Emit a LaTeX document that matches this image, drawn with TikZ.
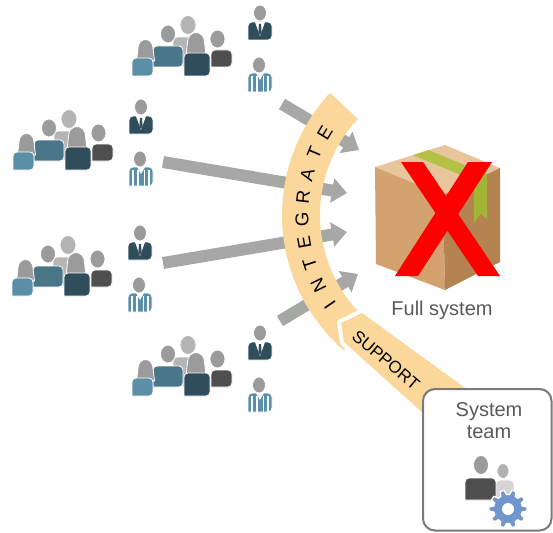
\documentclass[tikz,border=0pt]{standalone}
\usepackage{fontspec}
\setmainfont{Liberation Sans}
\usetikzlibrary{arrows.meta}

\definecolor{arrowgray}{HTML}{A6A8A6}
\definecolor{bandpeach}{HTML}{FCD79B}
\definecolor{tealA}{HTML}{5B8FA8}
\definecolor{tealB}{HTML}{4A7787}
\definecolor{tealC}{HTML}{2F4D5A}
\definecolor{coatgray}{HTML}{4F4F4F}
\definecolor{headgray}{HTML}{9B9B9B}
\definecolor{backgray}{HTML}{B5B5B5}
\definecolor{boxtop}{HTML}{E8C59C}
\definecolor{boxleft}{HTML}{D4A26F}
\definecolor{boxright}{HTML}{B5834F}
\definecolor{tapetop}{HTML}{B4C144}
\definecolor{tapeside}{HTML}{A3B537}
\definecolor{labelgray}{HTML}{595959}
\definecolor{framegray}{HTML}{7A7A7A}
\definecolor{gearblue}{HTML}{7096CC}

% body: x1 y1 x2 y2 colour (rounded shoulders)
\newcommand\figbody[5]{\filldraw[fill=#5, draw=white, line width=0.8pt]
  (#1,#4) [rounded corners=4pt] -- (#1,#2) -- (#3,#2) -- (#3,#4) [sharp corners] -- cycle;}
% head: cx cy rx ry colour
\newcommand\fighead[5]{\filldraw[fill=#5, draw=white, line width=0.8pt]
  (#1,#2) ellipse[x radius=#3, y radius=#4];}
% head with hair down to the shoulders: cx cy rx ry bottom colour
\newcommand\fighair[6]{\filldraw[fill=#6, draw=white, line width=0.8pt]
  ({#1-#3-1.5},#5) -- ({#1-#3},#2) arc[start angle=180, end angle=360, x radius=#3, y radius=#4]
  -- ({#1+#3+1.5},#5) -- cycle;}

% one team: crowd of five, a manager and a worker
\newcommand\crowdat[2]{%
\begin{scope}[shift={(#1,#2)}]
  \figbody{173}{37}{203}{66}{backgray}
  \fighead{188}{25}{8}{9.5}{headgray!75}
  \figbody{153}{46}{183}{67}{tealB}
  \fighead{168}{34}{7.5}{9}{headgray}
  \fighair{145.5}{48}{7.5}{8.5}{61}{headgray}
  \figbody{132}{58}{153}{76}{tealA}
  \figbody{211}{50}{232}{67}{coatgray}
  \fighead{217.5}{39}{7.5}{9}{headgray}
  \fighair{196}{42}{8.5}{9.5}{57}{headgray}
  \figbody{184}{53}{210}{76}{tealC}
  % manager in a suit
  \figbody{248}{22}{272}{40}{tealC}
  \fill[white] (255,22) -- (265,22) -- (260,36) -- cycle;
  \fill[tealC] (259,24) -- (261,24) -- (261.6,32) -- (260,35) -- (258.4,32) -- cycle;
  \fighead{260}{13}{6.5}{8}{headgray}
  % worker in striped overalls
  \figbody{248}{73}{272}{92}{tealA}
  \foreach \sx in {252,256.7,263.5,268.2} \draw[white, line width=1.8pt] (\sx,76) -- (\sx,92.5);
  \fill[white] (256,73) -- (264,73) -- (260,80) -- cycle;
  \fighead{259}{65}{6.5}{8}{headgray}
\end{scope}}

\begin{document}
\begin{tikzpicture}[x=1pt, y=1pt,
  flow/.style={draw=arrowgray, line width=12pt, -{Triangle[length=15pt, width=24pt]}},
  bandtext/.style={font=\fontsize{18.5}{18.5}\selectfont, text=black, inner sep=0pt},
  caption/.style={font=\fontsize{20}{22}\selectfont, text=labelgray, align=center, inner sep=0pt}]
\useasboundingbox (0,0) rectangle (553,-532);

\begin{scope}[yscale=-1]
  % the four teams
  \crowdat{0}{0}
  \crowdat{-119}{94}
  \crowdat{-120}{220}
  \crowdat{0}{320}

  % flows towards the system
  \coordinate (a1s) at (282,104);  \coordinate (a1e) at (359,150);
  \coordinate (a2s) at (163,162);  \coordinate (a2e) at (347,193);
  \coordinate (a3s) at (163,263);  \coordinate (a3e) at (347,232);
  \coordinate (a4s) at (280,321);  \coordinate (a4e) at (358,274);
  \draw[flow] (a1s) -- (a1e);
  \draw[flow] (a2s) -- (a2e);
  \draw[flow] (a3s) -- (a3e);
  \draw[flow] (a4s) -- (a4e);

  % curved INTEGRATE band
  \begin{scope}[shift={(461,215)}]
    \fill[bandpeach] (-137:179) arc[start angle=-137, end angle=-229, radius=179]
      -- (-229:141) arc[start angle=-229, end angle=-137, radius=141] -- cycle;
    \foreach \ch [count=\k from 0] in {I,N,T,E,G,R,A,T,E} {
      \pgfmathsetmacro\tang{214.5-8.19*\k}
      \node[bandtext, rotate=\tang-90] (int\k) at (-\tang:159) {\ch};
    }
  \end{scope}

  % SUPPORT arrow, separated from the band by a white gap
  \coordinate (sp1) at (341,323);
  \coordinate (sp2) at (362,313);
  \coordinate (sp3) at (483,401);
  \coordinate (sp4) at (440.6,429);
  \coordinate (sp5) at (344,342);
  \draw[white, line width=8pt, line join=round] (sp1) -- (sp2) -- (sp3) -- (sp4) -- (sp5) -- cycle;
  \fill[bandpeach] (sp1) -- (sp2) -- (sp3) -- (sp4) -- (sp5) -- cycle;
  \node[font=\fontsize{17}{17}\selectfont, rotate=-40, inner sep=0pt] (supp) at (386,360) {SUPPORT};

  % cardboard box
  \fill[boxtop] (445,145) -- (500,168) -- (443,195) -- (375,167) -- cycle;
  \fill[boxleft] (375,167) -- (443,195) -- (445,290) -- (376,264) -- cycle;
  \fill[boxright] (443,195) -- (500,168) -- (500,262) -- (445,290) -- cycle;
  \fill[tapetop] (412.9,155.1) -- (428.6,150.1) -- (487,174.2) -- (474,180.3) -- cycle;
  \fill[tapeside] (474,180.3) -- (487,174.2) -- (487,219) -- (480.5,214) -- (474,223) -- cycle;
  % red cross
  \fill[red] (401,162) -- (423,162) -- (500,276) -- (478,276) -- cycle;
  \fill[red] (468,162) -- (492,162) -- (418,276) -- (395,276) -- cycle;
  \node[caption] (full) at (442,310) {Full system};

  % system team
  \node[draw=framegray, fill=white, line width=2pt, rounded corners=12pt,
        minimum width=128.5pt, minimum height=141.5pt, inner sep=0pt] (team) at (487.25,459.75) {};
  \node[caption] (teamlbl) at (489,421) {System\\team};
  \figbody{496}{480}{514}{498}{black!17}
  \fighead{503}{471}{6}{7.5}{black!30}
  \figbody{465}{478}{496}{500}{coatgray}
  \fighead{481}{465}{7.5}{9.5}{headgray}
  \begin{scope}[shift={(508,509)}]
    \filldraw[fill=gearblue, draw=white, line width=1.2pt] (-12:14.5)
      \foreach \g in {0,36,...,324} { -- (\g-12:14.5) -- (\g-6:19) -- (\g+6:19) -- (\g+12:14.5) } -- cycle;
    \fill[white] (0,0) circle[radius=6];
  \end{scope}
\end{scope}
\end{tikzpicture}
\end{document}
